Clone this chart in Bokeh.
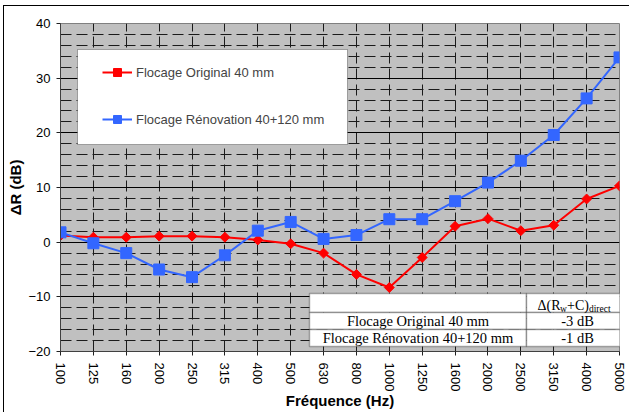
from bokeh.plotting import figure
from bokeh.models import (Range1d, FixedTicker, SingleIntervalTicker, BoxAnnotation,
                          Label, Legend, LegendItem)
from bokeh.embed import file_html
from bokeh.resources import INLINE
import math

# ---- data ----
freqs = ["100", "125", "160", "200", "250", "315", "400", "500", "630", "800",
         "1000", "1250", "1600", "2000", "2500", "3150", "4000", "5000"]
original = [1.2, 0.9, 0.9, 1.1, 1.1, 0.9, 0.4, -0.3, -2.0, -5.9,
            -8.3, -2.8, 2.9, 4.3, 2.1, 3.1, 7.9, 10.3]
renovation = [1.8, -0.2, -2.0, -5.0, -6.4, -2.4, 2.1, 3.7, 0.6, 1.3,
              4.2, 4.2, 7.5, 10.9, 14.9, 19.6, 26.3, 33.8]
series_names = ["Flocage Original 40 mm", "Flocage Rénovation 40+120 mm"]
table_header = ["Δ(R", "w", "+C)", "direct"]
table_values = ["-3 dB", "-1 dB"]
y_min, y_max, y_step = -20, 40, 10

SANS = "Liberation Sans"
SERIF = "Liberation Serif"
RED = "#FF0000"
BLUE = "#3366FF"

x = list(range(len(freqs)))

p = figure(frame_width=559, frame_height=328,
           x_range=Range1d(0, len(freqs) - 1), y_range=Range1d(y_min, y_max),
           output_backend="svg", toolbar_location=None,
           min_border_left=55, min_border_top=17, min_border_right=10, min_border_bottom=60,
           styles={"position": "absolute", "left": "3px", "top": "5px",
                   "border-left": "1px solid black", "border-top": "1px solid black"},
           background_fill_color="#C0C0C0", border_fill_color="white",
           outline_line_color="#808080", outline_line_width=1)

# axes
p.xaxis.ticker = FixedTicker(ticks=x, minor_ticks=[])
p.xaxis.major_label_overrides = {i: f for i, f in enumerate(freqs)}
p.xaxis.major_label_orientation = "vertical"
p.yaxis.ticker = SingleIntervalTicker(interval=y_step, num_minor_ticks=5)
for ax in (p.xaxis[0], p.yaxis[0]):
    ax.axis_line_color = "#404040"
    ax.major_tick_line_color = "#202020"
    ax.major_tick_in = 0
    ax.major_tick_out = 4
    ax.minor_tick_line_color = None
    ax.major_label_text_font = SANS
    ax.major_label_text_font_size = "13px"
    ax.major_label_text_color = "black"
    ax.axis_label_text_font = SANS
    ax.axis_label_text_font_size = "15px"
    ax.axis_label_text_font_style = "bold"
    ax.axis_label_text_color = "black"
p.xaxis.axis_label = "Fréquence (Hz)"
p.yaxis.axis_label = "ΔR (dB)"
p.xaxis.major_label_standoff = 7
p.yaxis.major_label_standoff = 6
p.xaxis.axis_label_standoff = -2
p.yaxis.axis_label_standoff = 1

# grids
p.ygrid.grid_line_color = "black"
p.ygrid.grid_line_width = 1
p.ygrid.minor_grid_line_color = "#1a1a1a"
p.ygrid.minor_grid_line_dash = "11 5"
p.xgrid.grid_line_color = "#1a1a1a"
p.xgrid.grid_line_dash = "11 5"

# data
l1 = p.line(x, original, line_color=RED, line_width=2)
s1 = p.scatter(x, original, marker="square", angle=math.pi / 4, size=7,
               fill_color=RED, line_color=RED)
l2 = p.line(x, renovation, line_color=BLUE, line_width=2)
s2 = p.scatter(x, renovation, marker="square", size=11,
               fill_color=BLUE, line_color=BLUE)

# legend box
p.add_layout(BoxAnnotation(left=17, right=287, bottom=207, top=302,
                           left_units="screen", right_units="screen",
                           bottom_units="screen", top_units="screen",
                           fill_color="white", fill_alpha=1,
                           line_color="black", line_width=1))
legend = Legend(items=[LegendItem(label=series_names[0], renderers=[l1, s1]),
                       LegendItem(label=series_names[1], renderers=[l2, s2])],
                location=(42, 222), padding=0, margin=0, spacing=27,
                glyph_width=30, glyph_height=20, label_height=20, label_standoff=4,
                label_text_font=SANS, label_text_font_size="13px",
                background_fill_alpha=0, border_line_color=None)
p.add_layout(legend)

# table
col_edges = [249, 466, 568]
row_edges = [58, 39, 22, 5]
for r in range(3):
    for c in range(2):
        p.add_layout(BoxAnnotation(left=col_edges[c], right=col_edges[c + 1],
                                   top=row_edges[r], bottom=row_edges[r + 1],
                                   left_units="screen", right_units="screen",
                                   bottom_units="screen", top_units="screen",
                                   fill_color="white", fill_alpha=1,
                                   line_color="black", line_width=1.5))

hx = 477
sizes = ["14px", "9.5px", "14px", "9.5px"]
widths = [22.6, 6.9, 21.9, 21.6]
ys = [46, 43, 46, 43]
for t, s, w, yy in zip(table_header, sizes, widths, ys):
    p.add_layout(Label(x=hx, y=yy, x_units="screen", y_units="screen", text=t,
                       text_font=SERIF, text_font_size=s, text_align="left",
                       text_baseline="alphabetic", text_color="black"))
    hx += w

for i, (name, val) in enumerate(zip(series_names, table_values)):
    yc = (row_edges[i + 1] + row_edges[i + 2]) / 2
    p.add_layout(Label(x=(col_edges[0] + col_edges[1]) / 2, y=yc,
                       x_units="screen", y_units="screen", text=name,
                       text_font=SERIF, text_font_size="14.5px", text_align="center",
                       text_baseline="middle", text_color="black"))
    p.add_layout(Label(x=(col_edges[1] + col_edges[2]) / 2, y=yc,
                       x_units="screen", y_units="screen", text=val,
                       text_font=SERIF, text_font_size="14.5px", text_align="center",
                       text_baseline="middle", text_color="black"))

open("out.html", "w").write(file_html(p, INLINE))
